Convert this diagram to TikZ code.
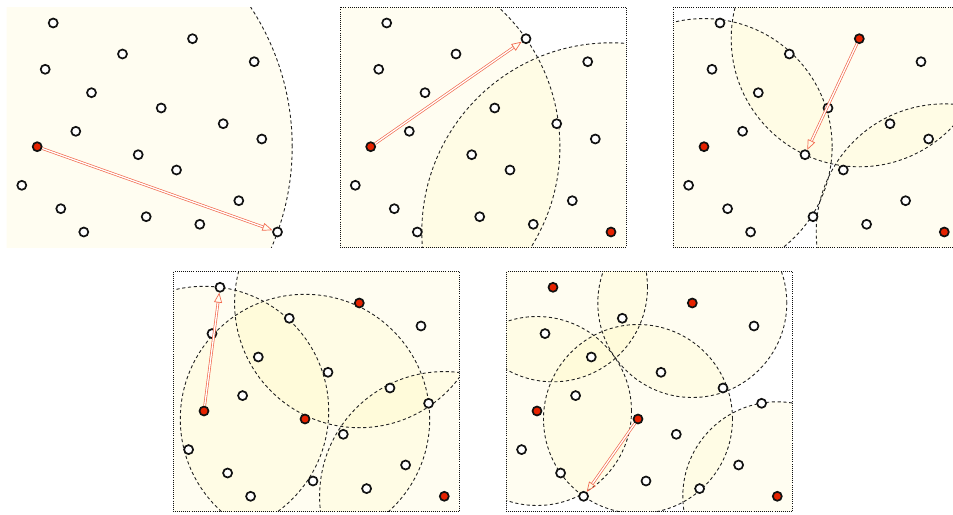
\documentclass[tikz,border=0pt]{standalone}
\usetikzlibrary{arrows.meta}
\definecolor{figline}{HTML}{111111}
\definecolor{figrim}{HTML}{222222}
\definecolor{figcover}{HTML}{FFF07A}
\definecolor{figcenter}{HTML}{E62200}
\definecolor{figarrow}{HTML}{F26B50}
\newcommand{\ptlist}{1/46.7/15.7, 2/116/46.7, 3/186/31.4, 4/247.7/54.4, 5/38.7/62,
  6/85/85.4, 7/154.7/100.7, 8/216.7/116.4, 9/69.3/124, 10/255.3/131.7,
  11/30.7/139.4, 12/131.7/147.4, 13/170/162.7, 14/15.3/178, 15/232.3/193.4,
  16/54.3/201.4, 17/139.7/209.4, 18/193.3/217, 19/77.3/224.7, 20/271/224.7}

\begin{document}
\begin{tikzpicture}[
  x=1pt, y=-1pt,
  spot/.style={circle, draw=figline, line width=1.7pt, fill=white, inner sep=0pt, minimum size=9pt},
  cover/.style={fill=figcover, fill opacity=0.1},
  rim/.style={draw=figrim, line width=0.9pt, dash pattern=on 3.2pt off 2.6pt},
  panelbox/.style={draw=figline, line width=0.7pt, dash pattern=on 0.8pt off 1.3pt},
  flow/.style={draw=figarrow, line width=0.7pt, double=white, double distance=1.3pt,
               -{Triangle[open, length=10pt, width=8pt]}}
]
\useasboundingbox (0,0) rectangle (953,514);

\begin{scope}[shift={(6.5,7.3)}, c11/.style={fill=figcenter}]
  \foreach \i/\x/\y in \ptlist {\coordinate (a\i) at (\x,\y);}
  \begin{scope}
    \clip (0,0) rectangle (286,240);
    \fill[cover] (a11) circle[radius=255pt];
    \draw[rim] (a11) circle[radius=255pt];
  \end{scope}
  \foreach \i/\x/\y in \ptlist {\node[spot, c\i/.try] (a-\i) at (a\i) {};}
  \draw[flow] (a-11) -- (a-20);
\end{scope}

\begin{scope}[shift={(340,7.3)}, c11/.style={fill=figcenter}, c20/.style={fill=figcenter}]
  \foreach \i/\x/\y in \ptlist {\coordinate (b\i) at (\x,\y);}
  \begin{scope}
    \clip (0,0) rectangle (286,240);
    \foreach \c in {11,20} {\fill[cover] (b\c) circle[radius=189.2pt];}
    \foreach \c in {11,20} {\draw[rim] (b\c) circle[radius=189.2pt];}
  \end{scope}
  \draw[panelbox] (0,0) rectangle (286,240);
  \foreach \i/\x/\y in \ptlist {\node[spot, c\i/.try] (b-\i) at (b\i) {};}
  \draw[flow] (b-11) -- (b-3);
\end{scope}

\begin{scope}[shift={(673.3,7.3)}, c11/.style={fill=figcenter}, c20/.style={fill=figcenter},
  c3/.style={fill=figcenter}]
  \foreach \i/\x/\y in \ptlist {\coordinate (c\i) at (\x,\y);}
  \begin{scope}
    \clip (0,0) rectangle (286,240);
    \foreach \c in {11,20,3} {\fill[cover] (c\c) circle[radius=128.1pt];}
    \foreach \c in {11,20,3} {\draw[rim] (c\c) circle[radius=128.1pt];}
  \end{scope}
  \draw[panelbox] (0,0) rectangle (286,240);
  \foreach \i/\x/\y in \ptlist {\node[spot, c\i/.try] (c-\i) at (c\i) {};}
  \draw[flow] (c-3) -- (c-12);
\end{scope}

\begin{scope}[shift={(173.3,271.6)}, c11/.style={fill=figcenter}, c20/.style={fill=figcenter},
  c3/.style={fill=figcenter}, c12/.style={fill=figcenter}]
  \foreach \i/\x/\y in \ptlist {\coordinate (d\i) at (\x,\y);}
  \begin{scope}
    \clip (0,0) rectangle (286,240);
    \foreach \c in {11,20,3,12} {\fill[cover] (d\c) circle[radius=124.7pt];}
    \foreach \c in {11,20,3,12} {\draw[rim] (d\c) circle[radius=124.7pt];}
  \end{scope}
  \draw[panelbox] (0,0) rectangle (286,240);
  \foreach \i/\x/\y in \ptlist {\node[spot, c\i/.try] (d-\i) at (d\i) {};}
  \draw[flow] (d-11) -- (d-1);
\end{scope}

\begin{scope}[shift={(506.3,271.6)}, c11/.style={fill=figcenter}, c20/.style={fill=figcenter},
  c3/.style={fill=figcenter}, c12/.style={fill=figcenter}, c1/.style={fill=figcenter}]
  \foreach \i/\x/\y in \ptlist {\coordinate (e\i) at (\x,\y);}
  \begin{scope}
    \clip (0,0) rectangle (286,240);
    \foreach \c in {11,20,3,12,1} {\fill[cover] (e\c) circle[radius=94.5pt];}
    \foreach \c in {11,20,3,12,1} {\draw[rim] (e\c) circle[radius=94.5pt];}
  \end{scope}
  \draw[panelbox] (0,0) rectangle (286,240);
  \foreach \i/\x/\y in \ptlist {\node[spot, c\i/.try] (e-\i) at (e\i) {};}
  \draw[flow] (e-12) -- (e-19);
\end{scope}
\end{tikzpicture}
\end{document}
